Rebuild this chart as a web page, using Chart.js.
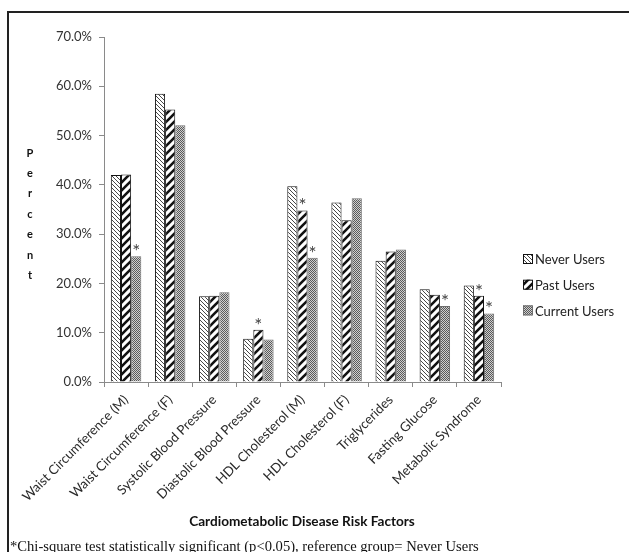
<!DOCTYPE html>
<html>
<head>
<meta charset="utf-8">
<script src="https://cdn.jsdelivr.net/npm/chart.js@4.4.1/dist/chart.umd.min.js"></script>
<style>
  html, body { margin: 0; padding: 0; background: #fff; overflow: hidden; }
  #wrap { position: relative; width: 629px; height: 552px; }
</style>
</head>
<body>
<div id="wrap"><canvas id="chart" width="629" height="552"></canvas></div>
<script>
// Risk factor categories on the x axis
const categories = [
  'Waist Circumference (M)', 'Waist Circumference (F)', 'Systolic Blood Pressure',
  'Diastolic Blood Pressure', 'HDL Cholesterol (M)', 'HDL Cholesterol (F)',
  'Triglycerides', 'Fasting Glucose', 'Metabolic Syndrome'
];
const seriesNames = ['Never Users', 'Past Users', 'Current Users'];

// Percent of each group with the risk factor
const neverUsers   = [42.0, 58.5, 17.4, 8.8, 39.7, 36.4, 24.6, 18.8, 19.6];
const pastUsers    = [42.1, 55.3, 17.5, 10.6, 34.8, 32.8, 26.5, 17.7, 17.5];
const currentUsers = [25.5, 52.1, 18.2, 8.6, 25.2, 37.3, 26.9, 15.4, 13.9];

// Significance markers (true = chi-square significant vs never users)
const sigPast    = [false, false, false, true, true, false, false, false, true];
const sigCurrent = [true, false, false, false, true, false, false, true, true];

const yTicks = [0, 10, 20, 30, 40, 50, 60, 70];

const axisTitle = 'Cardiometabolic Disease Risk Factors';
const yTitle = 'Percent';
const footnote = '*Chi-square test statistically significant (p<0.05), reference group= Never Users';

// ---- fill patterns ----
function makePattern(kind) {
  const c = document.createElement('canvas');
  const x = c.getContext('2d');
  if (kind === 'never') {
    c.width = 4; c.height = 4;
    x.fillStyle = '#fff'; x.fillRect(0, 0, 4, 4);
    x.strokeStyle = '#333'; x.lineWidth = 0.9;
    x.beginPath();
    x.moveTo(-1, -1); x.lineTo(5, 5);
    x.moveTo(-1, 3); x.lineTo(1, 5);
    x.moveTo(3, -1); x.lineTo(5, 1);
    x.stroke();
  } else if (kind === 'past') {
    c.width = 8; c.height = 8;
    x.fillStyle = '#fff'; x.fillRect(0, 0, 8, 8);
    x.strokeStyle = '#111'; x.lineWidth = 2.6;
    x.beginPath();
    x.moveTo(-2, 10); x.lineTo(10, -2);
    x.moveTo(-6, 6); x.lineTo(6, -6);
    x.moveTo(2, 14); x.lineTo(14, 2);
    x.stroke();
  } else {
    c.width = 2; c.height = 2;
    x.fillStyle = '#cfcfcf'; x.fillRect(0, 0, 2, 2);
    x.fillStyle = '#5a5a5a';
    x.fillRect(0, 0, 1, 1); x.fillRect(1, 1, 1, 1);
  }
  return x.createPattern(c, 'repeat');
}

const fills = [makePattern('never'), makePattern('past'), makePattern('current')];
const borders = ['#111', '#111', '#6e6e6e'];
const seriesData = [neverUsers, pastUsers, currentUsers];
const sigFlags = [null, sigPast, sigCurrent];

const FONT = 'Lato, "Open Sans", sans-serif';

// ---- decorations: frame, titles, legend, asterisks, footnote ----
const decor = {
  id: 'decor',
  afterDraw(chart) {
    const ctx = chart.ctx;
    ctx.save();

    // outer frame (top and left edges visible)
    ctx.strokeStyle = '#222';
    ctx.lineWidth = 2;
    ctx.beginPath();
    ctx.moveTo(8, 560); ctx.lineTo(8, 12); ctx.lineTo(640, 12);
    ctx.stroke();

    // asterisks above significant bars
    ctx.fillStyle = '#444';
    ctx.font = '19px ' + FONT;
    ctx.textAlign = 'center';
    ctx.textBaseline = 'alphabetic';
    for (let d = 1; d < 3; d++) {
      const meta = chart.getDatasetMeta(d);
      meta.data.forEach((bar, i) => {
        if (sigFlags[d][i]) ctx.fillText('*', bar.x, bar.y + 2);
      });
    }

    // vertical stacked y-axis title
    ctx.fillStyle = '#111';
    ctx.font = 'bold 11px ' + FONT;
    ctx.textAlign = 'center';
    ctx.textBaseline = 'middle';
    yTitle.split('').forEach((ch, i) => ctx.fillText(ch, 30, 153 + i * 20.4));

    // x-axis title
    ctx.font = 'bold 13.6px ' + FONT;
    ctx.fillText(axisTitle, 302, 522);

    // legend
    ctx.textAlign = 'left';
    ctx.font = '13px ' + FONT;
    seriesNames.forEach((name, i) => {
      const y = 259 + i * 25.7;
      ctx.fillStyle = fills[i];
      ctx.fillRect(523, y - 5, 10, 10);
      ctx.strokeStyle = borders[i];
      ctx.lineWidth = 1;
      ctx.strokeRect(523.5, y - 4.5, 9, 9);
      ctx.fillStyle = '#222';
      ctx.fillText(name, 535, y + 1);
    });

    // footnote
    ctx.font = '14.6px "Liberation Serif", "DejaVu Serif", serif';
    ctx.fillStyle = '#111';
    ctx.textBaseline = 'alphabetic';
    ctx.fillText(footnote, 10, 551);

    ctx.restore();
  }
};

new Chart(document.getElementById('chart'), {
  type: 'bar',
  data: {
    labels: categories,
    datasets: seriesData.map((d, i) => ({
      label: seriesNames[i],
      data: d,
      backgroundColor: fills[i],
      borderColor: borders[i],
      borderWidth: 1,
      categoryPercentage: 0.69,
      barPercentage: 1.0
    }))
  },
  options: {
    responsive: false,
    animation: false,
    events: [],
    layout: { padding: { left: 0, right: 128, top: 37, bottom: 0 } },
    plugins: { legend: { display: false }, tooltip: { enabled: false } },
    scales: {
      x: {
        grid: { offset: true, drawOnChartArea: false, tickLength: 5, color: '#8a8a8a' },
        border: { color: '#8a8a8a' },
        ticks: {
          minRotation: 45, maxRotation: 45, autoSkip: false,
          color: '#2a2a2a', font: { family: FONT, size: 13.2 }, padding: 5
        },
        afterFit(scale) { scale.height = 170; }
      },
      y: {
        min: 0, max: 70,
        afterBuildTicks(scale) { scale.ticks = yTicks.map(v => ({ value: v })); },
        grid: { drawOnChartArea: false, tickLength: 5, color: '#8a8a8a' },
        border: { color: '#8a8a8a' },
        ticks: {
          color: '#333', font: { family: FONT, size: 13 }, padding: 7,
          callback: v => v.toFixed(1) + '%'
        },
        afterFit(scale) { scale.width = 104; }
      }
    }
  },
  plugins: [decor]
});
</script>
</body>
</html>
